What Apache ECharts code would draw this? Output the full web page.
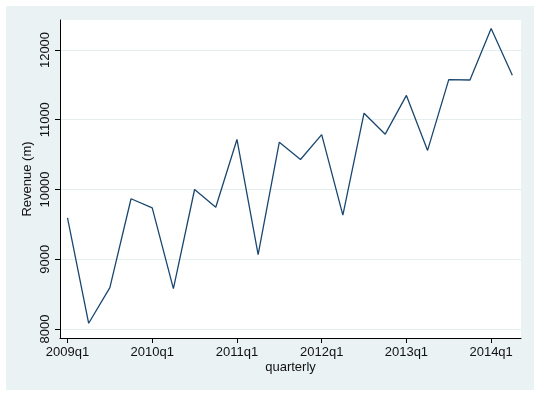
<!DOCTYPE html>
<html>
<head>
<meta charset="utf-8">
<script src="https://cdn.jsdelivr.net/npm/echarts@6/dist/echarts.min.js"></script>
<style>html,body{margin:0;padding:0;background:#fff}#c{width:540px;height:396px}</style>
</head>
<body>
<div id="c"></div>
<script>
var quarters = ['2009q1','2009q2','2009q3','2009q4','2010q1','2010q2','2010q3','2010q4',
  '2011q1','2011q2','2011q3','2011q4','2012q1','2012q2','2012q3','2012q4',
  '2013q1','2013q2','2013q3','2013q4','2014q1','2014q2'];
var revenue = [9593, 8082, 8593, 9867, 9737, 8578, 10000, 9746,
  10717, 9067, 10679, 10430, 10786, 9633, 11094, 10793,
  11349, 10560, 11575, 11570, 12307, 11637];
var xTickIndex = [0, 4, 8, 12, 16, 20];
var yTicks = [8000, 9000, 10000, 11000, 12000];

var chart = echarts.init(document.getElementById('c'), null, {renderer: 'canvas'});
var font = 'Liberation Sans, Arial, sans-serif';
var data = revenue.map(function (v, i) { return [i, v]; });
chart.setOption({
  animation: false,
  backgroundColor: '#ffffff',
  graphic: [{
    type: 'rect', z: -10, silent: true,
    shape: {x: 6, y: 6, width: 528, height: 384},
    style: {fill: '#eaf2f3'}
  }],
  grid: {left: 60, right: 19, top: 20, bottom: 58, show: true, backgroundColor: '#ffffff', borderWidth: 0},
  xAxis: {
    type: 'value', min: -0.354, max: 21.41,
    name: 'quarterly', nameLocation: 'middle', nameGap: 23, nameMoveOverlap: false,
    nameTextStyle: {color: '#111', fontSize: 13, fontFamily: font},
    axisLine: {show: true, onZero: false, lineStyle: {color: '#000', width: 1}},
    axisTick: {show: true, length: 5, customValues: xTickIndex, lineStyle: {color: '#000'}},
    axisLabel: {
      customValues: xTickIndex, margin: 8, color: '#111', fontSize: 13, fontFamily: font,
      formatter: function (v) { return quarters[Math.round(v)] || ''; }
    },
    splitLine: {show: false}
  },
  yAxis: {
    type: 'value', min: 7871, max: 12430,
    name: 'Revenue (m)', nameLocation: 'middle', nameGap: 26, nameMoveOverlap: false,
    nameTextStyle: {color: '#111', fontSize: 13, fontFamily: font},
    axisLine: {show: true, onZero: false, lineStyle: {color: '#000', width: 1}},
    axisTick: {show: true, length: 5, customValues: yTicks, lineStyle: {color: '#000'}},
    axisLabel: {
      customValues: yTicks, rotate: 90, margin: 8, color: '#111', fontSize: 13, fontFamily: font,
      formatter: function (v) { return String(Math.round(v)); }
    },
    splitLine: {show: true, lineStyle: {color: '#e4eeee', width: 1}}
  },
  series: [{
    type: 'line', data: data, symbol: 'none',
    lineStyle: {color: '#1a476f', width: 1.3}
  }]
});
</script>
</body>
</html>
